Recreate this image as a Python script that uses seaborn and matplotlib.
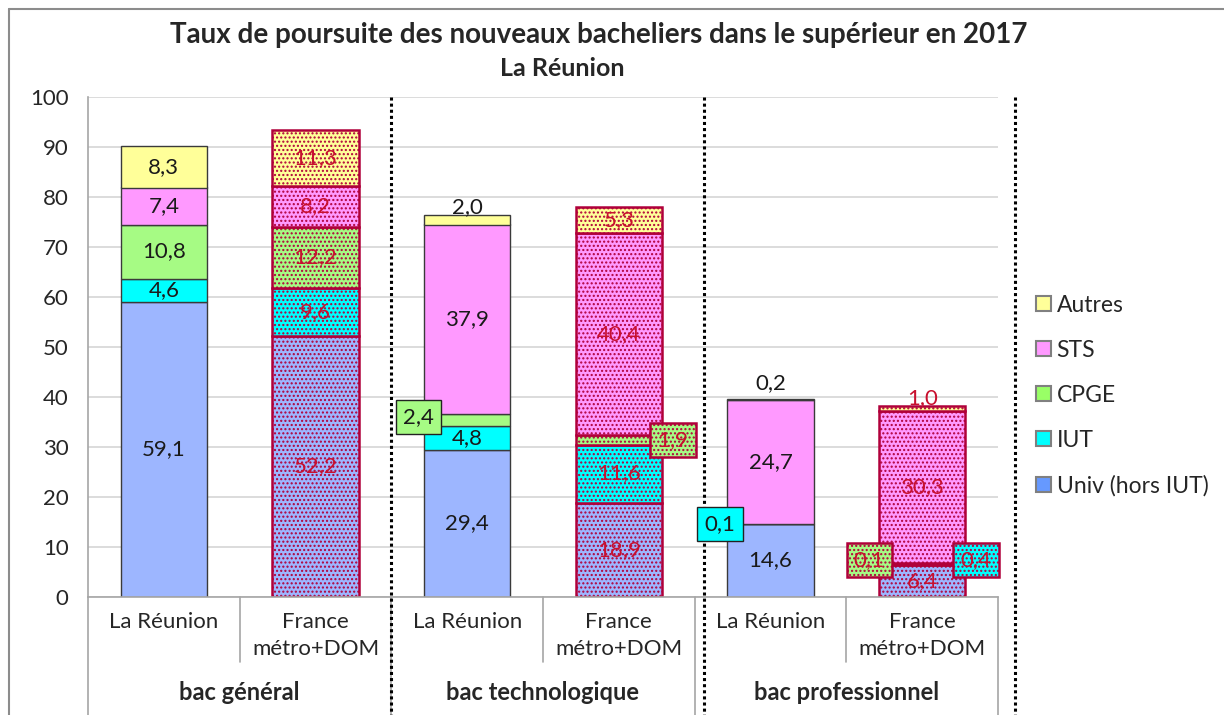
import matplotlib
matplotlib.use("Agg")
import matplotlib.pyplot as plt
import matplotlib.patches as mpatches
from matplotlib.lines import Line2D
from matplotlib.transforms import blended_transform_factory
import numpy as np
import pandas as pd
import seaborn as sns

sns.set_style("white")
plt.rcParams['font.family'] = ['Lato', 'DejaVu Sans']
plt.rcParams['hatch.linewidth'] = 1.0

# ====== Data ======
bar_keys = ["gen_reu", "gen_fr", "tech_reu", "tech_fr", "pro_reu", "pro_fr"]
bar_labels = ["La Réunion", "France\nmétro+DOM"] * 3
groups = ["bac général", "bac technologique", "bac professionnel"]
is_france = [False, True, False, True, False, True]

segments = ["Univ (hors IUT)", "IUT", "CPGE", "STS", "Autres"]
univ = [59.1, 52.2, 29.4, 18.9, 14.6, 6.4]
iut = [4.6, 9.6, 4.8, 11.6, 0.1, 0.4]
cpge = [10.8, 12.2, 2.4, 1.9, 0.0, 0.1]
sts = [7.4, 8.2, 37.9, 40.4, 24.7, 30.3]
autres = [8.3, 11.3, 2.0, 5.3, 0.2, 1.0]
seg_values = [univ, iut, cpge, sts, autres]

title = "Taux de poursuite des nouveaux bacheliers dans le supérieur en 2017"
subtitle = "La Réunion"

# ====== Styles ======
seg_colors = ["#9db6ff", "#00ffff", "#a6fb84", "#ff99ff", "#ffff99"]
legend_colors = ["#6699ff", "#00ffff", "#99ff66", "#ff99ff", "#ffff99"]
reu_edge = "#3a3a3a"
fr_edge = "#b0003a"
fr_text = "#c8102e"
grey = "#a6a6a6"
FS = 16

# boxed labels for tiny segments: (segment, bar) -> (x offset, y)
box_pos = {(2, 2): (-0.32, 36.0), (2, 3): (0.357, 31.4), (1, 4): (-0.333, 14.6),
           (2, 5): (-0.35, 7.4), (1, 5): (0.355, 7.4)}
# labels above the bar for small "Autres"
above_off = {2: 1.4, 4: 3.2, 5: 1.6}

fig = plt.figure(figsize=(12.24, 7.15), dpi=100)
ax = fig.add_axes([88 / 1224, 1 - 597 / 715, 910 / 1224, 500 / 715])

def fmt(v):
    return f"{v:.1f}".replace(".", ",")

# ====== Stacked bars ======
df = pd.DataFrame({"bar": bar_keys})
bottom = np.zeros(len(bar_keys))
for si, (seg, vals, col) in enumerate(zip(segments, seg_values, seg_colors)):
    df["val"] = vals
    n_before = len(ax.patches)
    sns.barplot(data=df, x="bar", y="val", order=bar_keys, color=col, width=0.57,
                bottom=bottom, errorbar=None, saturation=1, ax=ax)
    new_patches = ax.patches[n_before:]
    for bi, p in enumerate(new_patches):
        if is_france[bi]:
            p.set_edgecolor(fr_edge)
            p.set_linewidth(1.8)
            p.set_hatch("....")
        else:
            p.set_edgecolor(reu_edge)
            p.set_linewidth(1.0)
        p.set_zorder(2)

    for bi, v in enumerate(vals):
        tc = fr_text if is_france[bi] else "#1a1a1a"
        if (si, bi) in box_pos:
            dx, y = box_pos[(si, bi)]
            bbox = dict(boxstyle="square,pad=0.32", facecolor=col,
                        edgecolor=fr_edge if is_france[bi] else "#222222",
                        linewidth=1.8 if is_france[bi] else 1.0)
            if is_france[bi]:
                bbox["hatch"] = "...."
            ax.text(bi + dx, y, fmt(v), ha="center", va="center", fontsize=FS,
                    color=tc, bbox=bbox, zorder=5)
        elif si == 4 and v < 3:
            top = bottom[bi] + v
            ax.text(bi, top + above_off[bi], fmt(v), ha="center", va="center",
                    fontsize=FS, color=tc, zorder=5)
        elif v >= 3:
            ax.text(bi, bottom[bi] + v / 2, fmt(v), ha="center", va="center",
                    fontsize=FS, color=tc, zorder=5)
    bottom = bottom + np.array(vals)

# ====== Axes ======
ax.set_xlim(-0.5, 5.5)
ax.set_ylim(0, 100)
ax.set_yticks(range(0, 101, 10))
ax.set_xticks(range(6))
ax.set_xticklabels(bar_labels, fontsize=FS, linespacing=1.4)
ax.set_xlabel("")
ax.set_ylabel("")
ax.tick_params(axis="x", length=0, pad=11)
ax.tick_params(axis="y", length=7, color=grey, labelsize=FS, pad=7, direction="out")
ax.yaxis.grid(True, color="#d9d9d9", linewidth=1.3)
ax.set_axisbelow(True)
for s in ["top", "right"]:
    ax.spines[s].set_visible(False)
for s in ["left", "bottom"]:
    ax.spines[s].set_color(grey)
    ax.spines[s].set_linewidth(1.2)

trans = blended_transform_factory(ax.transData, ax.transAxes)
for x in [0.5, 2.5, 4.5]:
    ax.plot([x, x], [0, -0.13], color=grey, lw=1.2, transform=trans, clip_on=False)
for x in [-0.5, 1.5, 3.5, 5.5]:
    ax.plot([x, x], [0, -0.25], color=grey, lw=1.2, transform=trans, clip_on=False)
for x in [1.5, 3.56, 5.61]:
    ax.plot([x, x], [1.0, -0.25], color="black", lw=2.2, linestyle=(0, (1, 1)),
            transform=trans, clip_on=False)
for gi, g in enumerate(groups):
    ax.text(2 * gi + 0.5, -0.192, g, transform=trans, ha="center", va="center",
            fontsize=17, fontweight="bold")

# ====== Titles ======
fig.text(599 / 1224, 1 - 35 / 715, title, ha="center", va="center",
         fontsize=20, fontweight="bold")
fig.text(562 / 1224, 1 - 68 / 715, subtitle, ha="center", va="center",
         fontsize=18, fontweight="bold")

# ====== Legend ======
handles = [mpatches.Patch(facecolor=c, edgecolor="#808080", linewidth=1.5, label=s)
           for s, c in zip(segments, legend_colors)][::-1]
fig.legend(handles=handles, loc="center left", bbox_to_anchor=(1036 / 1224, 1 - 395.5 / 715),
           frameon=False, fontsize=16.5, handlelength=0.65, handleheight=0.65,
           handletextpad=0.25, labelspacing=1.05, borderpad=0, borderaxespad=0)

# ====== Outer frame ======
fig.add_artist(Line2D([9 / 1224, 9 / 1224], [0, 1 - 9 / 715], color="#8c8c8c", lw=1.5))
fig.add_artist(Line2D([9 / 1224, 1], [1 - 9 / 715, 1 - 9 / 715], color="#8c8c8c", lw=1.5))

fig.savefig("out.png", dpi=100)
